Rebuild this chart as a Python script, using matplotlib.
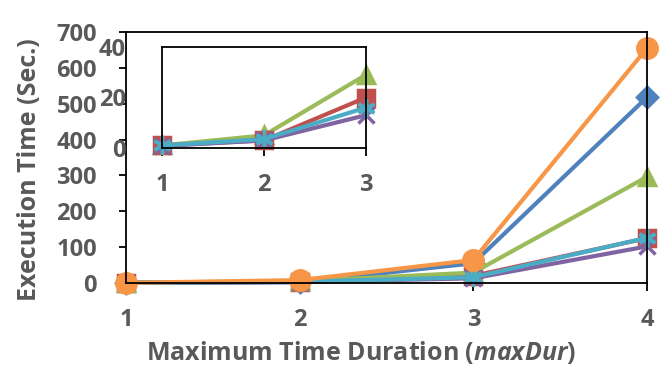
import matplotlib
matplotlib.use("Agg")
import matplotlib.pyplot as plt

# maxDur settings and execution times (seconds) per method
DUR = [1, 2, 3, 4]
BLUE = [0.3, 2, 55, 518]
RED = [1, 3, 20, 125]
GREEN = [1, 5, 29, 296]
PURPLE = [0.8, 3, 13, 102]
CYAN = [1, 3.5, 16, 126]
ORANGE = [0.5, 8, 64, 655]

INSET_DUR = [1, 2, 3]

GREY = "#595959"
plt.rcParams["font.family"] = ["Open Sans", "DejaVu Sans"]
plt.rcParams["font.weight"] = "bold"
plt.rcParams["mathtext.fontset"] = "custom"
plt.rcParams["mathtext.it"] = "Open Sans:italic:bold"
plt.rcParams["mathtext.rm"] = "Open Sans:bold"

STYLES = [
    (BLUE, "#4F81BD", "D", 10),
    (RED, "#C0504D", "s", 11),
    (GREEN, "#9BBB59", "^", 12),
    (PURPLE, "#8064A2", "x", 11),
    (CYAN, "#4BACC6", (6, 2, 0), 13),
    (ORANGE, "#F79646", "o", 14),
]


def draw(ax, xs, series_list):
    for vals, col, mk, ms in series_list:
        ax.plot(xs, vals[:len(xs)], color=col, lw=3, marker=mk, ms=ms,
                mec=col, mew=2.5, clip_on=False, solid_capstyle="round")


fig = plt.figure(figsize=(6.62, 3.80), dpi=100)
ax = fig.add_axes([126 / 662, 1 - 283 / 380, 521 / 662, 251 / 380])
draw(ax, DUR, STYLES)
ax.set_xlim(1, 4)
ax.set_ylim(0, 700)
ax.set_xticks(DUR)
ax.set_yticks(range(0, 701, 100))
for s in ax.spines.values():
    s.set_color("black")
    s.set_linewidth(1.3)
ax.tick_params(axis="y", length=5, width=1.3, pad=16, labelsize=17, labelcolor=GREY)
ax.tick_params(axis="x", length=6, width=1.3, pad=12, labelsize=17, labelcolor=GREY)

fig.text(30 / 662, 1 - 170 / 380, "Execution Time (Sec.)", rotation=90,
         ha="center", va="center", fontsize=18, color=GREY, fontweight="bold")
fig.text(361 / 662, 1 - 352 / 380, r"Maximum Time Duration ($\mathit{maxDur}$)",
         ha="center", va="center", fontsize=18, color=GREY, fontweight="bold")

# zoom on the first three settings for the four cheaper methods
ins = fig.add_axes([162 / 662, 1 - 148 / 380, 204 / 662, 101 / 380])
draw(ins, INSET_DUR, [STYLES[2], STYLES[1], STYLES[3], STYLES[4]])
ins.set_xlim(1, 3)
ins.set_ylim(0, 40)
ins.set_xticks(INSET_DUR)
ins.set_yticks([0, 20, 40])
for s in ins.spines.values():
    s.set_color("black")
    s.set_linewidth(1.3)
ins.tick_params(axis="y", length=0, pad=26, labelsize=17, labelcolor=GREY)
ins.tick_params(axis="x", length=6, width=1.3, pad=12, labelsize=17, labelcolor=GREY)

fig.savefig("out.png", dpi=100)
